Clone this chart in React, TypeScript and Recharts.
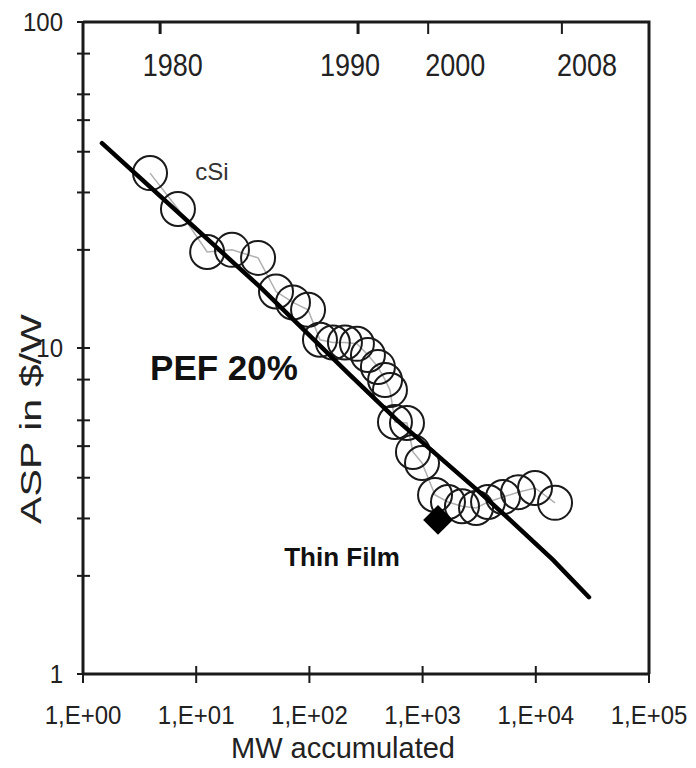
import {
  Label,
  ReferenceDot,
  Scatter,
  ScatterChart,
  XAxis,
  YAxis,
} from "recharts";

// cSi price points (MW accumulated, ASP in $/W)
const circleMW = [
  3.91, 6.9, 12.5, 20.7, 35.2, 50.7, 71.6, 97.3, 124, 161, 206, 263, 329, 403,
  466, 515, 570, 728, 822, 988, 1288, 1676, 2228, 2965, 3785, 5130, 6970, 9840,
  14790,
];
const circleASP = [
  34.4, 26.7, 19.7, 20.0, 18.9, 14.9, 13.8, 13.1, 10.6, 10.4, 10.4, 10.3, 9.52,
  8.75, 7.98, 7.43, 5.93, 5.89, 4.8, 4.44, 3.54, 3.37, 3.27, 3.23, 3.37, 3.49,
  3.61, 3.72, 3.35,
];

// learning curve (PEF 20%)
const trendMW = [1.47, 36.6, 215, 594, 3025, 5920, 14190, 29500];
const trendASP = [42.5, 15.4, 8.44, 6.01, 3.67, 2.97, 2.24, 1.72];

// thin film point
const thinFilmMW = [1368];
const thinFilmASP = [2.97];

const xTicks = [1, 10, 100, 1000, 10000, 100000];
const xTickLabels = ["1,E+00", "1,E+01", "1,E+02", "1,E+03", "1,E+04", "1,E+05"];
const yTicks = [
  1, 2, 3, 4, 5, 6, 7, 8, 9, 10, 20, 30, 40, 50, 60, 70, 80, 90, 100,
];
const yMajor = [1, 10, 100];
const yMajorLabels = ["1", "10", "100"];

// year markers along the top frame
const yearTickMW = [4.8, 269, 1120, 17000];
const yearLabelMW = [6.2, 228, 1940, 28400];
const yearLabels = ["1980", "1990", "2000", "2008"];

const circles = circleMW.map((x, i) => ({ x, y: circleASP[i] }));
const trend = trendMW.map((x, i) => ({ x, y: trendASP[i] }));
const thinFilm = thinFilmMW.map((x, i) => ({ x, y: thinFilmASP[i] }));

const W = 696;
const H = 768;
const M = { top: 22, right: 47, bottom: 0, left: 0 };
const Y_AXIS_W = 83;
const X_AXIS_H = 94;
const X_DOMAIN = [1, 100000];

const PLOT_LEFT = M.left + Y_AXIS_W;
const PLOT_TOP = M.top;
const PLOT_RIGHT = W - M.right;
const PLOT_BOTTOM = H - M.bottom - X_AXIS_H;

const FONT = '"Liberation Sans", Arial, sans-serif';
const INK = "#1a1a1a";

function XTick(props: any) {
  const { x, y, payload } = props;
  const i = xTicks.indexOf(payload.value);
  return (
    <g>
      <line x1={x} x2={x} y1={y - 8} y2={y + 9} stroke={INK} strokeWidth={2} />
      <text
        transform={`translate(${x} ${y + 41}) scale(1 1.1)`}
        textAnchor="middle"
        dominantBaseline="central"
        fontSize={24}
        fontFamily={FONT}
        fill="#222"
      >
        {xTickLabels[i]}
      </text>
    </g>
  );
}

function YTick(props: any) {
  const { x, y, payload } = props;
  const i = yMajor.indexOf(payload.value);
  return (
    <g>
      <line x1={x - 6} x2={x + 7} y1={y} y2={y} stroke={INK} strokeWidth={2} />
      {i >= 0 && (
        <text
          transform={`translate(${x - 20} ${y}) scale(1 1.1)`}
          textAnchor="end"
          dominantBaseline="central"
          fontSize={24}
          fontFamily={FONT}
          fill="#222"
        >
          {yMajorLabels[i]}
        </text>
      )}
    </g>
  );
}

function YearLabel(props: any) {
  const { x, y, payload } = props;
  const i = yearLabelMW.indexOf(payload.value);
  return (
    <text
      transform={`translate(${x} ${y + 43}) scale(1 1.15)`}
      textAnchor="middle"
      dominantBaseline="central"
      fontSize={27}
      fontFamily={FONT}
      fill="#222"
    >
      {yearLabels[i]}
    </text>
  );
}

// same log mapping as the x axis, for the frame overlay
const logX = (v: number) => {
  const lo = Math.log10(X_DOMAIN[0]);
  const hi = Math.log10(X_DOMAIN[1]);
  return PLOT_LEFT + ((Math.log10(v) - lo) / (hi - lo)) * (PLOT_RIGHT - PLOT_LEFT);
};

// top and right edges of the box plus the year ticks hanging from the top
function FrameOverlay() {
  return (
    <svg
      width={W}
      height={H}
      style={{ position: "absolute", left: 0, top: 0, pointerEvents: "none" }}
    >
      <path
        d={`M${PLOT_LEFT},${PLOT_TOP}H${PLOT_RIGHT}V${PLOT_BOTTOM}`}
        fill="none"
        stroke={INK}
        strokeWidth={3}
      />
      {yearTickMW.map((v, i) => (
        <line
          key={v}
          x1={logX(v)}
          x2={logX(v)}
          y1={PLOT_TOP}
          y2={PLOT_TOP + 12}
          stroke={INK}
          strokeWidth={i < 2 ? 3 : 2}
        />
      ))}
    </svg>
  );
}

const ring = (p: any) => (
  <circle cx={p.cx} cy={p.cy} r={17} fill="none" stroke={INK} strokeWidth={2} />
);

const diamond = (p: any) => (
  <rect
    x={p.cx - 10.5}
    y={p.cy - 10.5}
    width={21}
    height={21}
    fill="#000"
    transform={`rotate(45 ${p.cx} ${p.cy})`}
  />
);

const nothing = () => <g />;

export default function App() {
  return (
    <div
      style={{
        position: "absolute",
        left: 0,
        top: 0,
        width: W,
        height: H,
        background: "#fff",
      }}
    >
      <ScatterChart width={W} height={H} margin={M}>
        <XAxis
          dataKey="x"
          type="number"
          scale="log"
          domain={X_DOMAIN}
          ticks={xTicks}
          height={X_AXIS_H}
          tickSize={0}
          tickMargin={0}
          tick={<XTick />}
          axisLine={{ stroke: INK, strokeWidth: 3 }}
          tickLine={false}
        >
          <Label
            content={() => (
              <text
                x={343}
                y={748}
                textAnchor="middle"
                dominantBaseline="central"
                fontSize={29}
                fontFamily={FONT}
                fill="#222"
              >
                MW accumulated
              </text>
            )}
          />
        </XAxis>
        <XAxis
          xAxisId="yearLabels"
          dataKey="x"
          orientation="top"
          type="number"
          scale="log"
          domain={X_DOMAIN}
          ticks={yearLabelMW}
          height={0.01}
          tickSize={0}
          tickMargin={0}
          tick={<YearLabel />}
          axisLine={false}
          tickLine={false}
        />
        <YAxis
          dataKey="y"
          type="number"
          scale="log"
          domain={[1, 100]}
          ticks={yTicks}
          width={Y_AXIS_W}
          tickSize={0}
          tickMargin={0}
          tick={<YTick />}
          axisLine={{ stroke: INK, strokeWidth: 3 }}
          tickLine={false}
        >
          <Label
            content={() => (
              <text
                transform="translate(31 419) rotate(-90) scale(1.42 1)"
                textAnchor="middle"
                dominantBaseline="central"
                fontSize={29}
                fontFamily={FONT}
                fill="#222"
              >
                ASP in $/W
              </text>
            )}
          />
        </YAxis>
        <Scatter
          data={circles}
          shape={ring}
          line={{ stroke: "#b0b0b0", strokeWidth: 1.5 }}
          fill="#b0b0b0"
          isAnimationActive={false}
        />
        <Scatter
          data={trend}
          shape={nothing}
          line={{ stroke: "#000", strokeWidth: 4.5, strokeLinecap: "round" }}
          fill="#000"
          isAnimationActive={false}
        />
        <Scatter
          data={thinFilm}
          xAxisId="yearLabels"
          shape={diamond}
          fill="#000"
          isAnimationActive={false}
        />
        <ReferenceDot
          x={13.8}
          y={34.7}
          r={0}
          ifOverflow="visible"
          label={{
            value: "cSi",
            position: "center",
            fontSize: 24,
            fontFamily: FONT,
            fill: "#333",
          }}
        />
        <ReferenceDot
          x={17.6}
          y={8.68}
          r={0}
          ifOverflow="visible"
          label={{
            value: "PEF 20%",
            position: "center",
            fontSize: 35,
            fontWeight: "bold",
            fontFamily: FONT,
            fill: "#111",
          }}
        />
        <ReferenceDot
          x={194}
          y={2.29}
          r={0}
          ifOverflow="visible"
          label={{
            value: "Thin Film",
            position: "center",
            fontSize: 26,
            fontWeight: "bold",
            fontFamily: FONT,
            fill: "#111",
          }}
        />
      </ScatterChart>
      <FrameOverlay />
    </div>
  );
}
